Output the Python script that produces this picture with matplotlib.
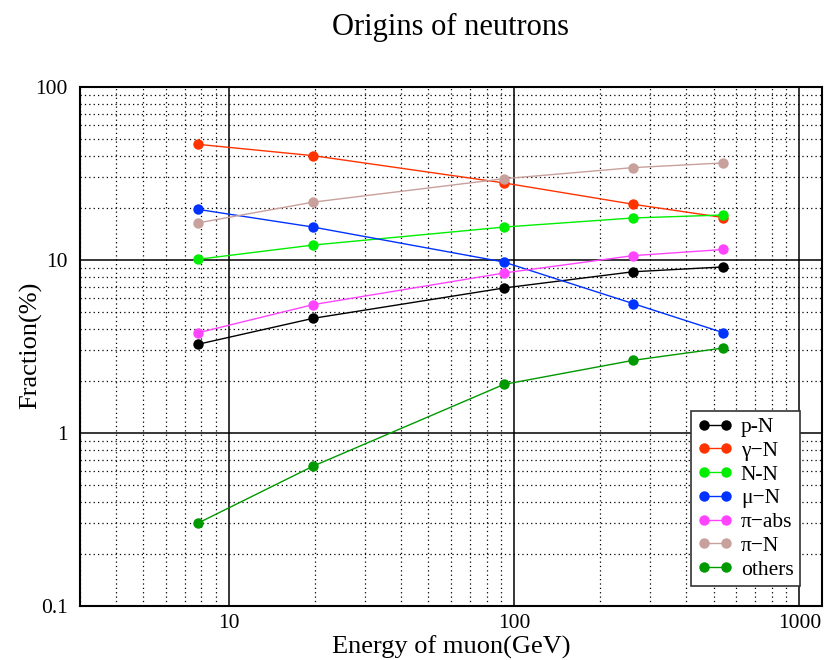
import matplotlib
matplotlib.use("Agg")
import matplotlib.pyplot as plt
from matplotlib.ticker import LogLocator, FixedLocator, FixedFormatter, NullFormatter

plt.rcParams['font.family'] = ['Liberation Serif', 'DejaVu Serif']
plt.rcParams['mathtext.fontset'] = 'stix'

# Mean muon energy (GeV)
energy = [7.8, 19.7, 92.0, 261.0, 541.0]

# Fraction of neutrons by production process (%)
p_N = [3.26, 4.60, 6.89, 8.55, 9.12]
gamma_N = [46.6, 40.1, 27.9, 21.0, 17.6]
N_N = [10.1, 12.2, 15.5, 17.5, 18.2]
mu_N = [19.6, 15.5, 9.73, 5.60, 3.80]
pi_abs = [3.80, 5.52, 8.41, 10.6, 11.5]
pi_N = [16.4, 21.6, 29.5, 34.2, 36.4]
others = [0.302, 0.643, 1.91, 2.63, 3.10]

series_labels = ["p-N", "\u03b3\u2212N", "N-N", "\u03bc\u2212N", "\u03c0\u2212abs", "\u03c0\u2212N", "others"]
series_values = [p_N, gamma_N, N_N, mu_N, pi_abs, pi_N, others]
series_colors = ["#000000", "#ff3300", "#00ee00", "#0033ff", "#ff44ff", "#c8a09c", "#009900"]

x_ticks = [10, 100, 1000]
x_tick_labels = ["10", "100", "1000"]
y_ticks = [0.1, 1, 10, 100]
y_tick_labels = ["0.1", "1", "10", "100"]

fig = plt.figure(figsize=(8.24, 6.60), dpi=100)
ax = fig.add_axes([80 / 824, 1 - 606 / 660, 742 / 824, 519 / 660])

for lab, vals, col in zip(series_labels, series_values, series_colors):
    ax.plot(energy, vals, color=col, lw=1.0, marker='o', markersize=7.5,
            markeredgewidth=0, label=lab, zorder=3)

ax.set_xscale('log')
ax.set_yscale('log')
ax.set_xlim(3, 1200)
ax.set_ylim(0.1, 100)

ax.xaxis.set_major_locator(FixedLocator(x_ticks))
ax.xaxis.set_major_formatter(FixedFormatter(x_tick_labels))
ax.yaxis.set_major_locator(FixedLocator(y_ticks))
ax.yaxis.set_major_formatter(FixedFormatter(y_tick_labels))
ax.xaxis.set_minor_locator(LogLocator(base=10, subs=range(2, 10), numticks=20))
ax.yaxis.set_minor_locator(LogLocator(base=10, subs=range(2, 10), numticks=20))
ax.xaxis.set_minor_formatter(NullFormatter())
ax.yaxis.set_minor_formatter(NullFormatter())

ax.grid(which='major', color='black', lw=1.1, ls='-', zorder=1)
ax.grid(which='minor', color='black', lw=0.9, ls=(0, (1, 2.5)), zorder=1)
ax.tick_params(axis='y', which='both', length=0, labelsize=15.5, pad=9)
ax.tick_params(axis='x', which='both', length=0, labelsize=15.5, pad=6)
for s in ax.spines.values():
    s.set_linewidth(1.5)
    s.set_color('black')

# Axis titles and figure title placed in figure pixel coordinates
fig.text(451 / 824, 1 - 647 / 660, "Energy of muon(GeV)", fontsize=19,
         ha='center', va='center')
fig.text(31 / 824, 1 - 345 / 660, "Fraction(%)", fontsize=19,
         ha='center', va='center', rotation=90)
fig.text(451 / 824, 1 - 27 / 660, "Origins of neutrons", fontsize=22,
         ha='center', va='center')

leg = ax.legend(loc='lower right', bbox_to_anchor=(1 - 22 / 742, 20 / 519),
                fontsize=15.5, numpoints=2, handlelength=1.6, handletextpad=0.4,
                labelspacing=0.17, borderpad=0.3, fancybox=False,
                framealpha=1, edgecolor='#333333', borderaxespad=0)
leg.get_frame().set_linewidth(1.2)

fig.savefig("out.png", dpi=100)
